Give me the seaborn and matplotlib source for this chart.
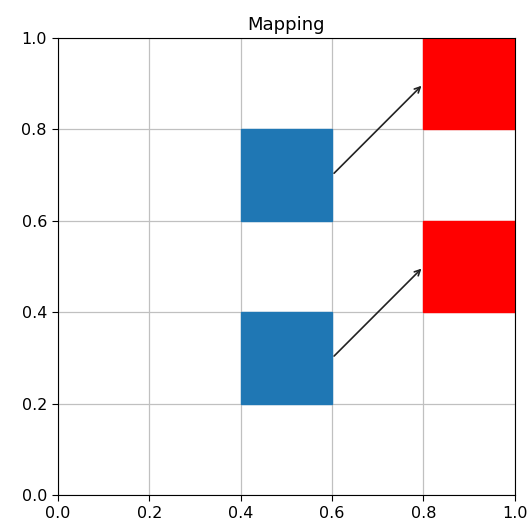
import matplotlib
matplotlib.use("Agg")
import matplotlib.pyplot as plt
from matplotlib.patches import Rectangle
import seaborn as sns

# squares given as (x, y) lower-left corner, all 0.2 wide
src_x = [0.4, 0.4]
src_y = [0.2, 0.6]
dst_x = [0.8, 0.8]
dst_y = [0.4, 0.8]
side = 0.2

sns.set_style("ticks", rc={"text.color": "black", "xtick.color": "black",
                           "ytick.color": "black", "axes.labelcolor": "black"})
plt.rcParams['font.family'] = ['DejaVu Sans']

fig, ax = plt.subplots(figsize=(5.28, 5.29), dpi=100)
fig.subplots_adjust(left=0.110, right=0.975, top=0.928, bottom=0.064)

for x, y in zip(src_x, src_y):
    ax.add_patch(Rectangle((x, y), side, side, color=sns.color_palette()[0]))
for x, y in zip(dst_x, dst_y):
    ax.add_patch(Rectangle((x, y), side, side, color="red"))

# arrows from the right edge middle of each blue square to the red one
for sx, sy, dx, dy in zip(src_x, src_y, dst_x, dst_y):
    ax.annotate("", xy=(dx, dy + side / 2), xytext=(sx + side, sy + side / 2),
                arrowprops=dict(arrowstyle="->", color="#222222", lw=1.2))

ax.set_xlim(0, 1)
ax.set_ylim(0, 1)
ax.grid(True, color="#c0c0c0", lw=0.9)
ax.set_axisbelow(True)
ax.tick_params(labelsize=11.5, direction="out", length=4, pad=4)
for s in ax.spines.values():
    s.set_visible(True)
    s.set_color("black")
ax.set_title("Mapping", fontsize=13)

fig.savefig("out.png", dpi=100)
